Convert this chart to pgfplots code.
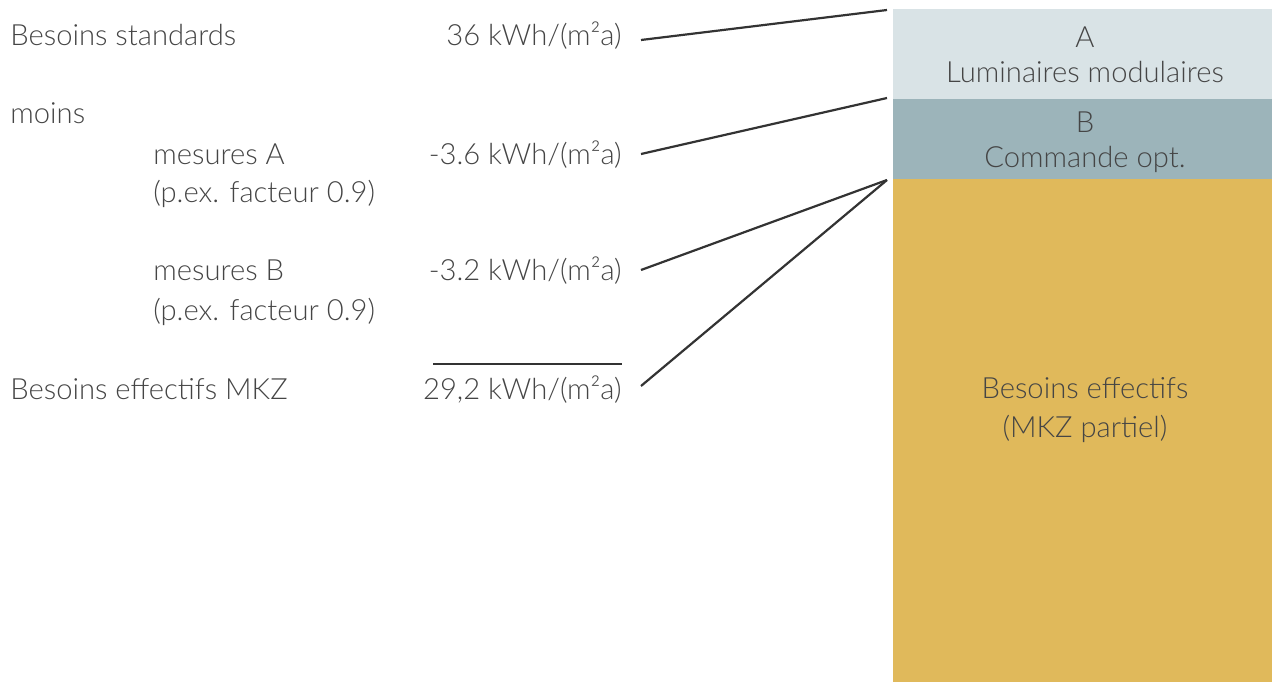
\documentclass[border=0pt]{standalone}
\usepackage{pgfplots}
\pgfplotsset{compat=1.18}
\usepackage{fontspec}
\setmainfont{Lato Light}
\definecolor{cA}{HTML}{D9E3E6}
\definecolor{cB}{HTML}{9CB4BA}
\definecolor{cE}{HTML}{E0B95B}
\definecolor{txt}{HTML}{454545}
\definecolor{ln}{HTML}{333333}
\begin{document}
\begin{tikzpicture}
\begin{axis}[
  at={(0,0)}, anchor=south west,
  width=636pt, height=341pt, scale only axis,
  xmin=0, xmax=1272, ymin=9.08, ymax=36.36,
  ybar stacked, bar width=379,
  axis lines=none, ticks=none,
]
\addplot[fill=cE, draw=none] coordinates {(1082.5,29.2)};
\addplot[fill=cB, draw=none] coordinates {(1082.5,3.2)};
\addplot[fill=cA, draw=none] coordinates {(1082.5,3.6)};
\end{axis}
\path (0,0) rectangle (636pt,341pt);
\begin{scope}[shift={(0,341pt)}, x=0.5pt, y=-0.5pt, every node/.style={text=txt, font=\fontsize{14.6pt}{16pt}\selectfont, inner sep=0pt}]
\node[anchor=base west] at (10,45) {Besoins standards};
\node[anchor=base east] at (622,45) {36 kWh/(m²a)};
\node[anchor=base west] at (10,123) {moins};
\node[anchor=base west] at (153,164) {mesures A};
\node[anchor=base west] at (153,202) {(p.ex. facteur 0.9)};
\node[anchor=base east] at (622,164) {-3.6 kWh/(m²a)};
\node[anchor=base west] at (153,280) {mesures B};
\node[anchor=base west] at (153,320) {(p.ex. facteur 0.9)};
\node[anchor=base east] at (622,280) {-3.2 kWh/(m²a)};
\draw[ln, line width=1pt] (433,364) -- (622,364);
\node[anchor=base west] at (10,399) {Besoins effectifs MKZ};
\node[anchor=base east] at (622,399) {29,2 kWh/(m²a)};
\draw[ln, line width=1.1pt] (641,40) -- (887,10);
\draw[ln, line width=1.1pt] (641,154) -- (887,98);
\draw[ln, line width=1.1pt] (641,270) -- (887,180);
\draw[ln, line width=1.1pt] (641,386) -- (887,180);
\node[anchor=base] at (1085,48) {A};
\node[anchor=base] at (1085,82) {Luminaires modulaires};
\node[anchor=base] at (1085,132) {B};
\node[anchor=base] at (1085,167) {Commande opt.};
\node[anchor=base] at (1085,398) {Besoins effectifs};
\node[anchor=base] at (1085,437) {(MKZ partiel)};
\end{scope}
\end{tikzpicture}
\end{document}
